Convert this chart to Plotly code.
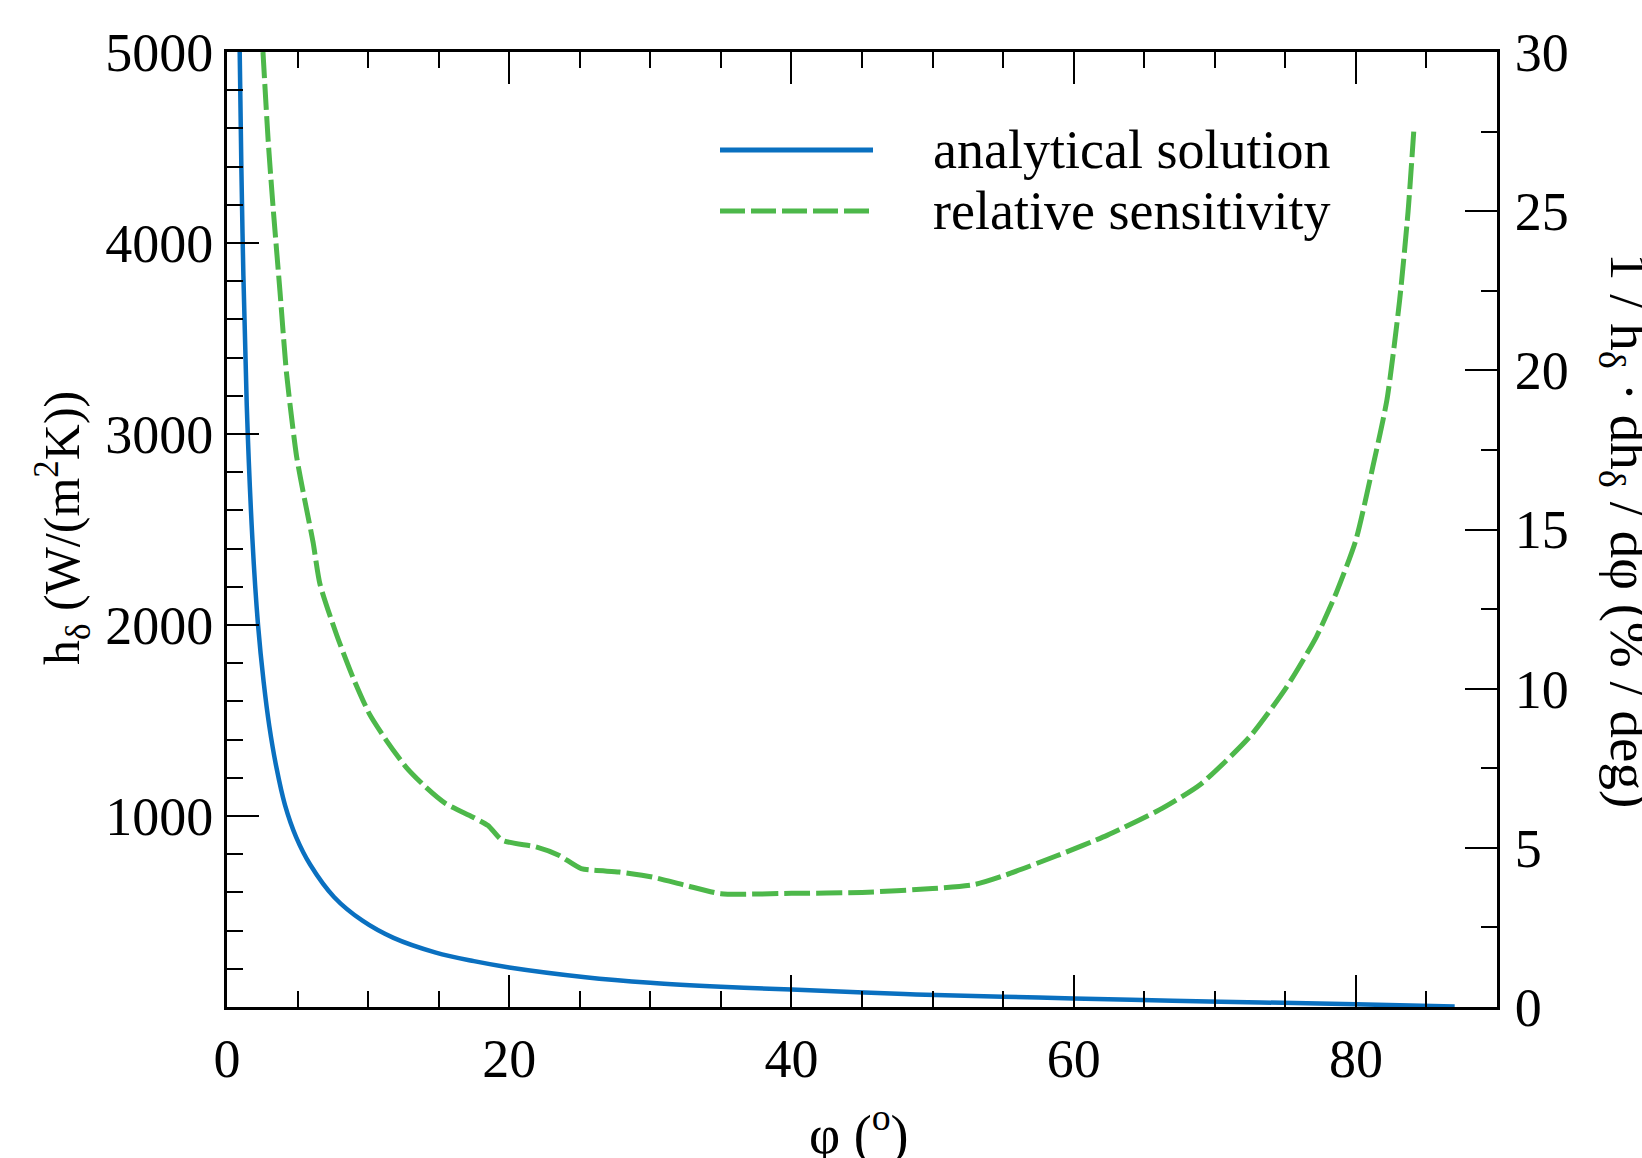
import plotly.graph_objects as go

# ---- data ----
phi_h = [0.85, 0.9, 1.1, 1.4, 1.8, 2.2, 2.6, 3.0, 3.5, 4.1, 4.9, 5.9, 7.6, 9.6, 11.8,
         14.8, 17.5, 20.0, 25.4, 30.0, 35.0, 40.0, 48.0, 55.0, 60.0, 67.0, 73.3, 80.0, 87.0]
h_vals = [5300, 5000, 4050, 3150, 2450, 2000, 1700, 1470, 1255, 1060, 890, 745, 575, 452, 362,
          285, 240, 207, 156, 127, 106, 91, 68, 54, 45, 33, 24, 14, 3]

phi_s = [2.55, 2.92, 3.27, 3.75, 4.22, 4.93, 5.52, 6.1, 6.58, 7.76, 8.93, 10.1, 11.3, 12.7,
         14.1, 15.5, 17.4, 18.5, 19.5, 21.9, 23.55, 25.1, 27.8, 30.15, 32.5, 35.0, 40.0, 45.0,
         50.0, 53.0, 55.2, 58.8, 62.4, 66.1, 69.0, 72.5, 75.1, 77.2, 78.6, 80.0, 81.2, 82.2,
         83.1, 83.7, 84.1]
s_vals = [30.0, 27.2, 25.1, 22.5, 19.9, 17.3, 15.9, 14.6, 13.3, 11.7, 10.35, 9.2, 8.37, 7.53,
          6.9, 6.39, 5.97, 5.7, 5.24, 5.03, 4.76, 4.35, 4.24, 4.08, 3.82, 3.56, 3.57, 3.6,
          3.72, 3.85, 4.15, 4.75, 5.4, 6.2, 7.0, 8.5, 10.06, 11.63, 13.0, 14.67, 16.97, 19.07,
          22.2, 25.0, 27.5]

x_ticks = [0, 20, 40, 60, 80]
y1_ticks = [1000, 2000, 3000, 4000, 5000]
y2_ticks = [0, 5, 10, 15, 20, 25, 30]
series_names = ["analytical solution", "relative sensitivity"]

BLUE = "#0A70C0"
GREEN = "#4DB84A"
FONT = "Liberation Serif, Times New Roman, serif"
FS = 54

# ---- layout geometry (pixels) ----
W, H = 1642, 1158
L, R, T, B = 227, 1497, 52, 1007
PW, PH = R - L, B - T


def px(xp):
    return (xp - L) / PW


def py(yp):
    return (B - yp) / PH


fig = go.Figure()
fig.add_trace(go.Scatter(x=phi_h, y=h_vals, mode="lines", name=series_names[0],
                         line=dict(color=BLUE, width=4.5, shape="spline", smoothing=1.0),
                         showlegend=False))
fig.add_trace(go.Scatter(x=phi_s, y=s_vals, mode="lines", name=series_names[1], yaxis="y2",
                         line=dict(color=GREEN, width=5, dash="26px,6px", shape="spline",
                                   smoothing=0.6),
                         showlegend=False))

axis_common = dict(ticks="inside", ticklen=32, tickwidth=2, tickcolor="black",
                   showline=True, linewidth=3, linecolor="black", showgrid=False,
                   zeroline=False, tickfont=dict(family=FONT, size=FS, color="black"))

fig.update_layout(
    width=W, height=H,
    margin=dict(l=L, r=W - R, t=T, b=H - B),
    paper_bgcolor="white", plot_bgcolor="white",
    font=dict(family=FONT, size=FS, color="black"),
    xaxis=dict(range=[0, 90], tickvals=x_ticks, mirror="ticks",
               minor=dict(dtick=5, tick0=0, ticks="inside", ticklen=16, tickwidth=2,
                          tickcolor="black", showgrid=False),
               ticklabelstandoff=2, **axis_common),
    yaxis=dict(range=[0, 5000], tickvals=y1_ticks, mirror=False,
               minor=dict(dtick=200, tick0=0, ticks="inside", ticklen=16, tickwidth=2,
                          tickcolor="black", showgrid=False),
               ticklabelstandoff=0, **axis_common),
    yaxis2=dict(range=[0, 30], tickvals=y2_ticks, overlaying="y", side="right",
                minor=dict(dtick=2.5, tick0=0, ticks="inside", ticklen=16, tickwidth=2,
                           tickcolor="black", showgrid=False),
                ticklabelstandoff=4, **axis_common),
    showlegend=False,
)

# legend drawn manually
leg_rows = [150, 211]
fig.add_shape(type="line", xref="paper", yref="paper", x0=px(720), x1=px(873),
              y0=py(leg_rows[0]), y1=py(leg_rows[0]), line=dict(color=BLUE, width=5))
fig.add_shape(type="line", xref="paper", yref="paper", x0=px(720), x1=px(873),
              y0=py(leg_rows[1]), y1=py(leg_rows[1]),
              line=dict(color=GREEN, width=5, dash="25px,6px"))
for name, yr in zip(series_names, leg_rows):
    fig.add_annotation(x=px(931), y=py(yr), xref="paper", yref="paper", text=name,
                       showarrow=False, xanchor="left", yanchor="middle",
                       font=dict(family=FONT, size=FS, color="black"))

# axis titles
fig.add_annotation(x=px(62), y=py(528), xref="paper", yref="paper",
                   text="h<sub>δ</sub> (W/(m<sup>2</sup>K))", textangle=-90,
                   showarrow=False, xanchor="center", yanchor="middle",
                   font=dict(family=FONT, size=50, color="black"))
fig.add_annotation(x=px(859), y=py(1130), xref="paper", yref="paper",
                   text="φ (<sup>o</sup>)", showarrow=False,
                   xanchor="center", yanchor="middle",
                   font=dict(family=FONT, size=FS, color="black"))
fig.add_annotation(x=px(1626), y=py(531), xref="paper", yref="paper",
                   text="1 / h<sub>δ</sub> · dh<sub>δ</sub> / dφ (% / deg)", textangle=90,
                   showarrow=False, xanchor="center", yanchor="middle",
                   font=dict(family=FONT, size=55, color="black"))

fig.write_html("out.html")
